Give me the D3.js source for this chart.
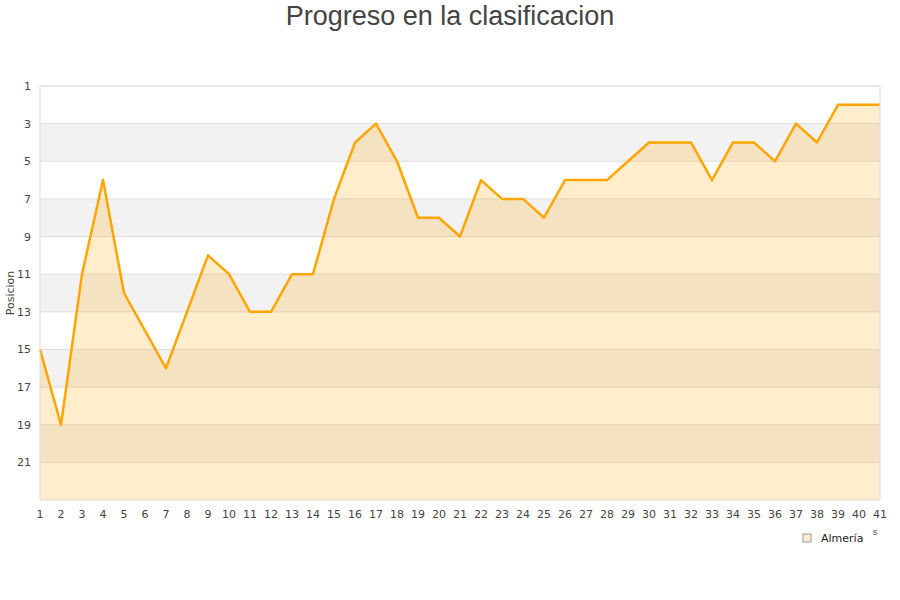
<!DOCTYPE html>
<html>
<head>
<meta charset="utf-8">
<script src="https://cdn.jsdelivr.net/npm/d3@7"></script>
<style>
body { margin: 0; background: #fff; font-family: "DejaVu Sans", sans-serif; }
</style>
</head>
<body>
<svg id="chart" width="900" height="600"></svg>
<script>
var width = 900;
var height = 600;
var margin = {top: 86, right: 20, bottom: 100, left: 40};

// data
var jornadas = d3.range(1, 42);
var posiciones = [15, 19, 11, 6, 12, 14, 16, 13, 10, 11, 13, 13, 11, 11, 7, 4, 3, 5, 8, 8,
                  9, 6, 7, 7, 8, 6, 6, 6, 5, 4, 4, 4, 6, 4, 4, 5, 3, 4, 2, 2, 2];
var yTicks = [1, 3, 5, 7, 9, 11, 13, 15, 17, 19, 21];
var equipo = "Almería";

var svg = d3.select("#chart");
var plotW = width - margin.left - margin.right;
var plotH = height - margin.top - margin.bottom;

var x = d3.scaleLinear().domain([1, 41]).range([margin.left, margin.left + plotW]);
var y = d3.scaleLinear().domain([1, 23]).range([margin.top, margin.top + plotH]);

// title
svg.append("text")
    .attr("x", width / 2)
    .attr("y", 25)
    .attr("text-anchor", "middle")
    .style("font-family", "'Liberation Sans', Arial, sans-serif")
    .style("font-size", "27px")
    .style("fill", "#444")
    .text("Progreso en la clasificacion");

// alternating bands
var bands = d3.range(1, 23, 2);
svg.selectAll(".band").data(bands)
    .enter().append("rect")
    .attr("x", margin.left)
    .attr("y", d => y(d))
    .attr("width", plotW)
    .attr("height", d => y(d + 2) - y(d))
    .attr("fill", (d, i) => i % 2 ? "#f2f2f2" : "#fff");

// grid lines
svg.selectAll(".grid").data(yTicks)
    .enter().append("line")
    .attr("x1", margin.left)
    .attr("x2", margin.left + plotW)
    .attr("y1", d => y(d))
    .attr("y2", d => y(d))
    .style("stroke", "#ddd");

// area + line
var data = jornadas.map((j, i) => ({j: j, p: posiciones[i]}));
var area = d3.area()
    .x(d => x(d.j))
    .y0(y(23))
    .y1(d => y(d.p));
var line = d3.line()
    .x(d => x(d.j))
    .y(d => y(d.p));

svg.append("path")
    .datum(data)
    .attr("d", area)
    .attr("fill", "orange")
    .attr("fill-opacity", 0.2);

svg.append("path")
    .datum(data)
    .attr("d", line)
    .attr("fill", "none")
    .attr("stroke", "orange")
    .attr("stroke-width", 2.5)
    .attr("stroke-linejoin", "round");

// border
svg.append("rect")
    .attr("x", margin.left)
    .attr("y", margin.top)
    .attr("width", plotW)
    .attr("height", plotH)
    .attr("fill", "none")
    .style("stroke", "#ddd");

// y tick labels
svg.selectAll(".ylab").data(yTicks)
    .enter().append("text")
    .attr("x", 31)
    .attr("y", d => y(d) + 4)
    .attr("text-anchor", "end")
    .style("font-size", "11px")
    .style("fill", "#444")
    .text(d => d);

// x tick labels
svg.selectAll(".xlab").data(jornadas)
    .enter().append("text")
    .attr("x", d => x(d))
    .attr("y", 518)
    .attr("text-anchor", "middle")
    .style("font-size", "11px")
    .style("fill", "#444")
    .text(d => d);

// y axis title
svg.append("text")
    .attr("transform", "translate(14," + (margin.top + plotH / 2) + ") rotate(-90)")
    .attr("text-anchor", "middle")
    .style("font-size", "11px")
    .style("fill", "#444")
    .text("Posicion");

// clipped x title remnant
svg.append("text")
    .attr("x", 875)
    .attr("y", 535)
    .attr("text-anchor", "middle")
    .style("font-size", "9px")
    .style("fill", "#444")
    .text("s");

// legend
svg.append("rect")
    .attr("x", 803)
    .attr("y", 534)
    .attr("width", 8)
    .attr("height", 8)
    .attr("fill", "#ffedcc")
    .style("stroke", "#999");
svg.append("text")
    .attr("x", 821)
    .attr("y", 542)
    .style("font-size", "11px")
    .style("fill", "#222")
    .text(equipo);
</script>
</body>
</html>
